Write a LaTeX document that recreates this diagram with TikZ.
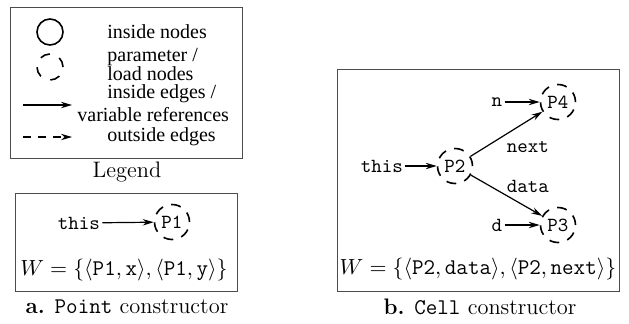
\documentclass[tikz,border=0pt]{standalone}
\usepackage{fontspec}
\newfontfamily\legendfont{Liberation Serif}
\usetikzlibrary{arrows.meta}

\tikzset{
	inode/.style={draw, circle, thick, minimum size=13pt, inner sep=0pt},
	pnode/.style={draw, circle, thick, dash pattern=on 5pt off 4.2pt, minimum size=17.5pt, inner sep=0pt, font=\ttfamily},
	lnode/.style={draw, circle, thick, dash pattern=on 5pt off 5.2pt, minimum size=13pt, inner sep=0pt},
	frame/.style={draw=black!70, line width=0.5pt},
	vref/.style={->, semithick},
	oedge/.style={->, semithick, dash pattern=on 4pt off 3.5pt},
	ltext/.style={font=\legendfont, inner sep=0pt, anchor=west},
	big/.style={font=\fontsize{11.2}{13}\selectfont},
}

\begin{document}
\begin{tikzpicture}[x=0.5pt, y=-0.5pt, >={Stealth[length=5.5pt,width=3.2pt]}]
	\useasboundingbox (0,0) rectangle (629,323);

	% legend
	\draw [frame] (11,7) rectangle (243,158);
	\node [inode] (lin) at (50,32) {};
	\node [ltext] (tin) at (107,32) {inside nodes};
	\node [lnode] (lpar) at (50,67) {};
	\node [ltext] (tpar) at (107,57) {parameter /};
	\node [ltext] (tload) at (107,74) {load nodes};
	\coordinate (ea) at (23,105);
	\coordinate (eb) at (72,105);
	\draw [vref] (ea) -- (eb);
	\node [ltext] (tedge) at (107,94) {inside edges /};
	\node [ltext] (tvar) at (77,115) {variable references};
	\coordinate (oa) at (23,137);
	\coordinate (ob) at (72,137);
	\draw [oedge] (oa) -- (ob);
	\node [ltext] (tout) at (107,137) {outside edges};
	\node [big] (legend) at (127,172) {Legend};

	% a. Point
	\draw [frame] (16,193) rectangle (238,291);
	\node [font=\ttfamily, inner sep=1pt] (thisa) at (79,223) {this};
	\node [pnode] (p1) at (172,222) {P1};
	\draw [vref] (thisa) -- (p1);
	\node [big] (wa) at (124,270) {$W=\{\langle\mathtt{P1},\mathtt{x}\rangle,\langle\mathtt{P1},\mathtt{y}\rangle\}$};
	\node [big] (capa) at (127,307) {\textbf{a.} \texttt{Point} constructor};

	% b. Cell
	\draw [frame] (338,69) rectangle (620,291);
	\node [font=\ttfamily, inner sep=1pt] (thisb) at (382,166) {this};
	\node [pnode] (p2) at (455,166) {P2};
	\node [pnode] (p4) at (558,102) {P4};
	\node [pnode] (p3) at (558,225) {P3};
	\node [font=\ttfamily, inner sep=1pt] (n) at (497,102) {n};
	\node [font=\ttfamily, inner sep=1pt] (d) at (497,225) {d};
	\draw [vref] (thisb) -- (p2);
	\draw [vref] (n) -- (p4);
	\draw [vref] (d) -- (p3);
	\draw [vref] (p2) -- (p4);
	\draw [vref] (p2) -- (p3);
	\node [font=\ttfamily] (lnext) at (528,147) {next};
	\node [font=\ttfamily] (ldata) at (528,186) {data};
	\node [big] (wb) at (478,269) {$W=\{\langle\mathtt{P2},\mathtt{data}\rangle,\langle\mathtt{P2},\mathtt{next}\rangle\}$};
	\node [big] (capb) at (480,307) {\textbf{b.} \texttt{Cell} constructor};
\end{tikzpicture}
\end{document}
